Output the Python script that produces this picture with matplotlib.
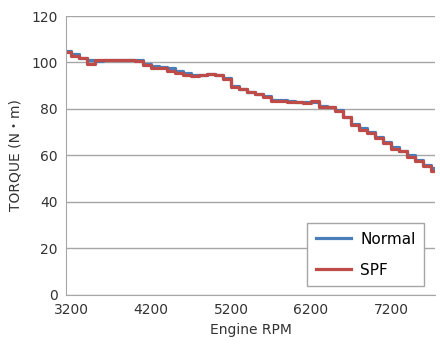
import matplotlib
matplotlib.use("Agg")
import matplotlib.pyplot as plt

# data
rpm = [3150, 3250, 3350, 3450, 3550, 3650, 3750, 3850, 3950, 4050,
       4150, 4250, 4350, 4450, 4550, 4650, 4750, 4850, 4950, 5050,
       5150, 5250, 5350, 5450, 5550, 5650, 5750, 5850, 5950, 6050,
       6150, 6250, 6350, 6450, 6550, 6650, 6750, 6850, 6950, 7050,
       7150, 7250, 7350, 7450, 7550, 7650, 7750]

normal = [105, 103.5, 102, 101, 100.5, 101, 101, 101, 101, 101,
          99.5, 98.5, 98, 97.5, 96.5, 95.5, 94.5, 94.5, 95, 94.5,
          93.5, 90, 88.5, 87.5, 86.5, 85.5, 84, 84, 83.5, 83,
          83, 83, 81.5, 81, 79.5, 76.5, 73.5, 72, 70, 68,
          66, 63.5, 62, 60, 58, 56, 54.5]

spf = [104.5, 103, 102, 99.5, 101, 101, 101, 101, 101, 100.5,
       99, 97.5, 97.5, 96.5, 95.5, 94.5, 94, 94.5, 95, 94.5,
       93, 89.5, 88.5, 87.5, 86.5, 85, 83.5, 83.5, 83, 83,
       82.5, 83.5, 81, 81, 79, 76.5, 73, 71, 69.5, 67.5,
       65.5, 63, 62, 59.5, 57.5, 55.5, 53.5]

xticks = [3200, 4200, 5200, 6200, 7200]
yticks = [0, 20, 40, 60, 80, 100, 120]

plt.rcParams['font.family'] = ['DejaVu Sans', 'Noto Sans CJK JP']

fig = plt.figure(figsize=(4.4, 3.54), dpi=100)
ax = fig.add_axes([0.15, 0.1667, 0.8386, 0.7881])

ax.plot(rpm, normal, color='#4a7ebb', lw=2.3, drawstyle='steps-mid', label='Normal')
ax.plot(rpm, spf, color='#be4b48', lw=2.3, drawstyle='steps-mid', label='SPF')

ax.set_xlim(3137, 7750)
ax.set_ylim(0, 120)
ax.set_xticks(xticks)
ax.set_yticks(yticks)
ax.tick_params(length=0, labelsize=10, colors='#333333', pad=6)
ax.grid(axis='y', color='#a6a6a6', lw=1)
ax.set_axisbelow(True)
for s in ['top', 'right']:
    ax.spines[s].set_visible(False)
for s in ['left', 'bottom']:
    ax.spines[s].set_color('#a6a6a6')

ax.set_xlabel('Engine RPM', fontsize=10, color='#333333', labelpad=4)
ax.set_ylabel('TORQUE (N・m)', fontsize=10, color='#333333', labelpad=6)

leg = ax.legend(loc='lower right', bbox_to_anchor=(0.97, 0.032), borderaxespad=0,
                fontsize=11, fancybox=False, framealpha=1, edgecolor='#a6a6a6',
                handlelength=2.3, borderpad=0.55, labelspacing=1.05, handletextpad=0.6)

fig.savefig('out.png', dpi=100)
